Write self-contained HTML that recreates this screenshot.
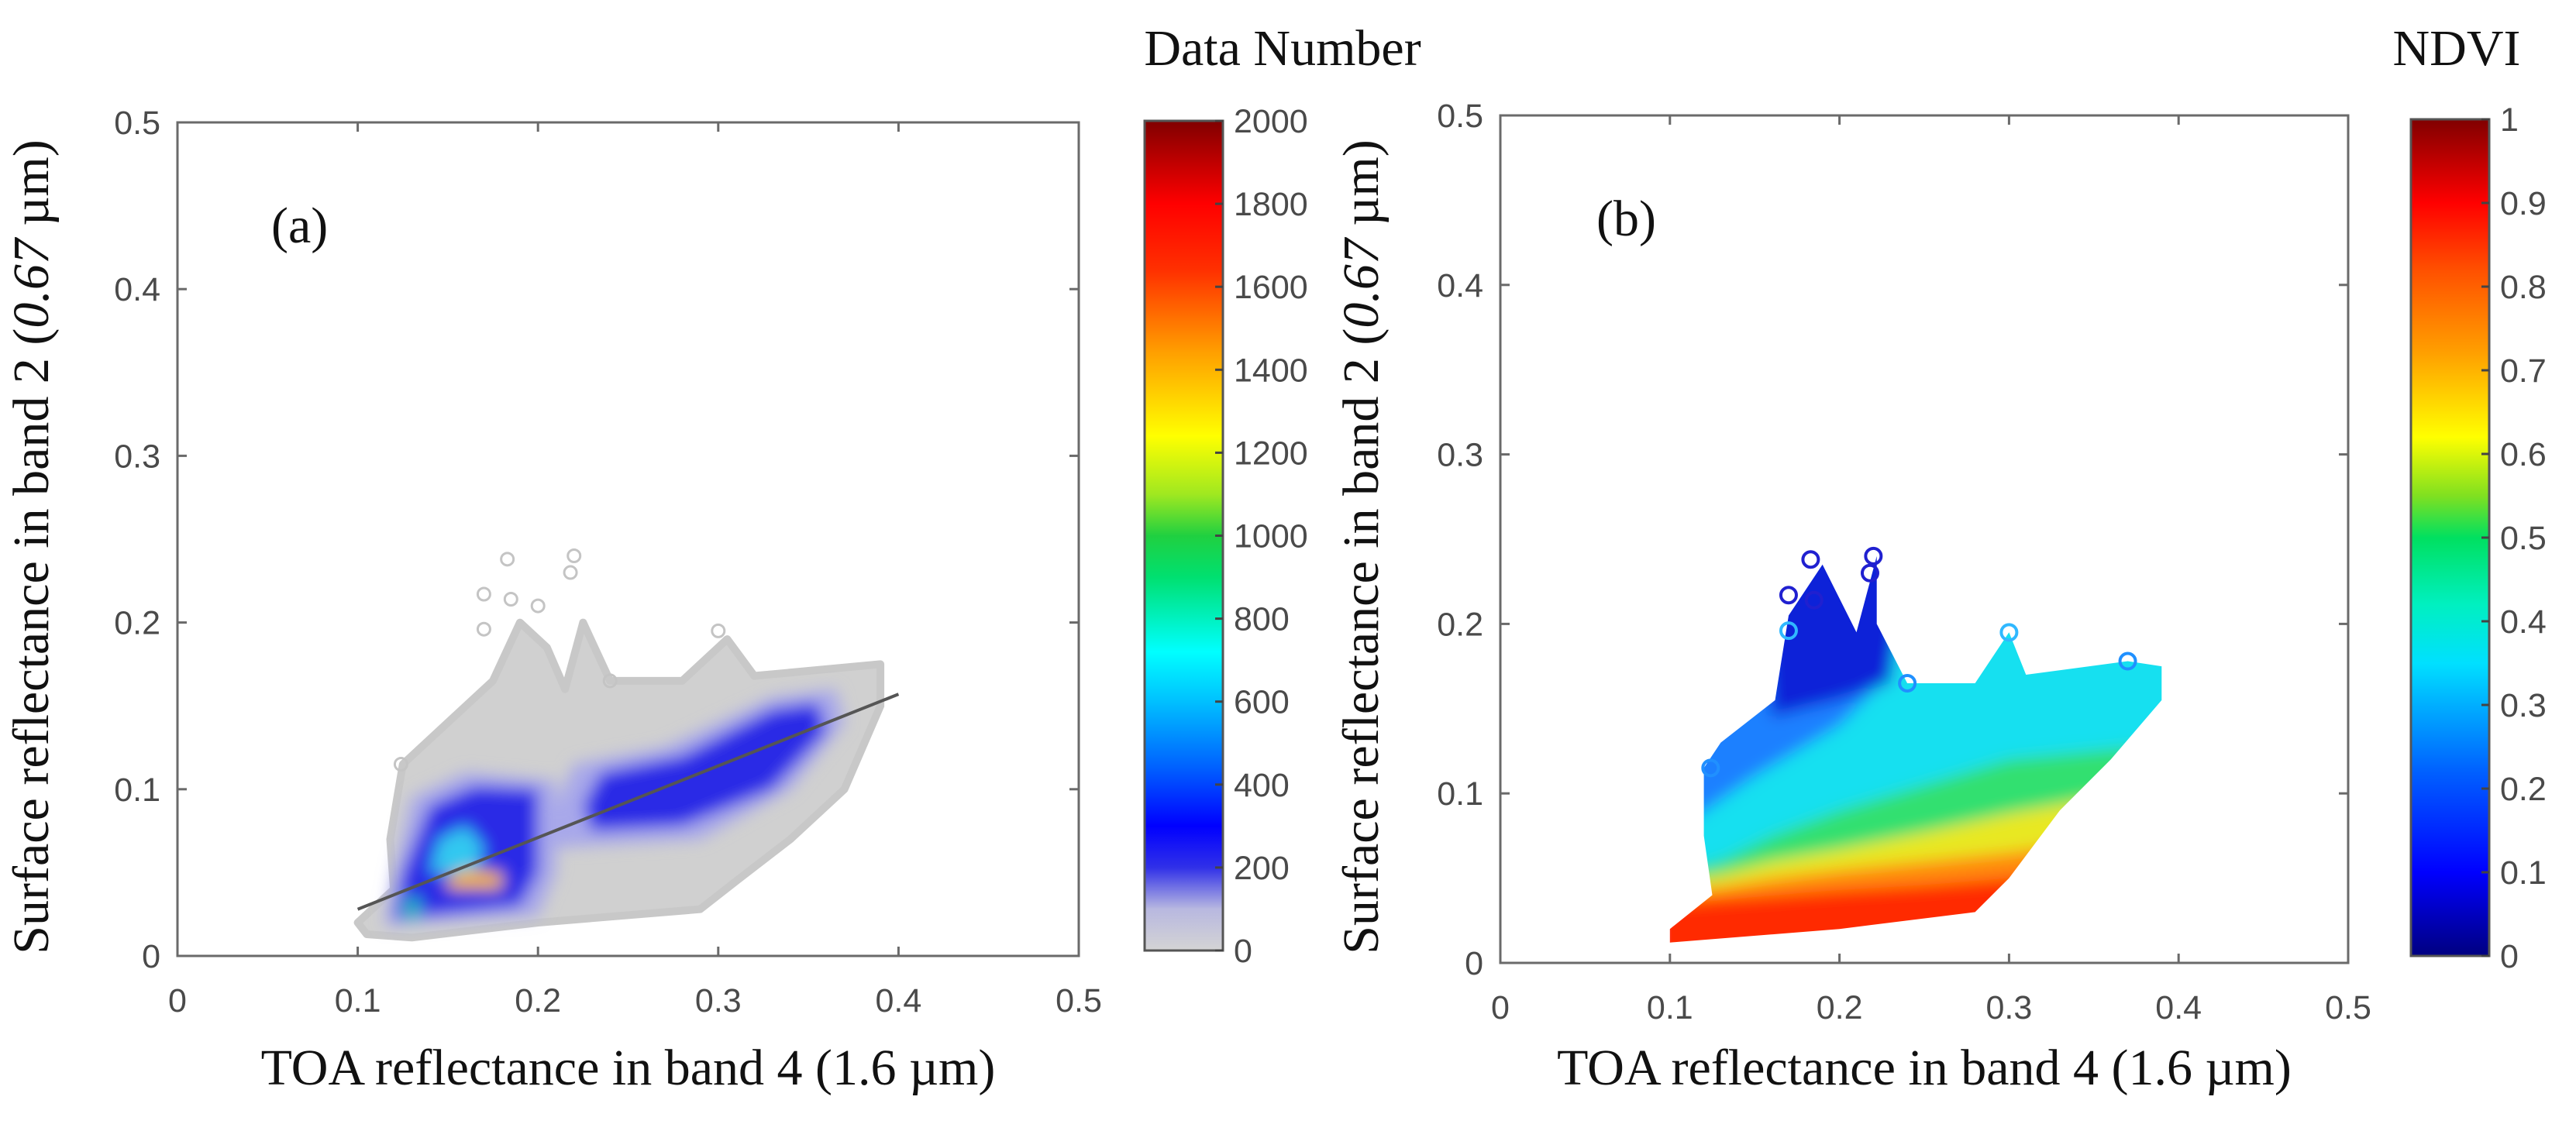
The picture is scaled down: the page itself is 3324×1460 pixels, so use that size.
<!DOCTYPE html>
<html><head><meta charset="utf-8">
<style>
html,body{margin:0;padding:0;background:#fff;}
svg{display:block;}
.tk{font-family:"Liberation Sans",sans-serif;font-size:43px;fill:#4a4a4a;}
.tt{font-family:"Liberation Serif",serif;font-size:66px;fill:#111;}
</style></head>
<body>
<svg id="fig" width="3324" height="1460" viewBox="0 0 3324 1460" xmlns="http://www.w3.org/2000/svg">
<defs>
<linearGradient id="cbA" x1="0" y1="1" x2="0" y2="0">
<stop offset="0" stop-color="#d4d4d4"/><stop offset="0.05" stop-color="#b8b8e0"/><stop offset="0.1" stop-color="#3030e8"/>
<stop offset="0.15" stop-color="#0000ff"/><stop offset="0.22" stop-color="#0060ff"/><stop offset="0.3" stop-color="#00c0ff"/>
<stop offset="0.36" stop-color="#00ffff"/><stop offset="0.45" stop-color="#00e070"/><stop offset="0.5" stop-color="#20d040"/>
<stop offset="0.55" stop-color="#a0e820"/><stop offset="0.62" stop-color="#ffff00"/><stop offset="0.72" stop-color="#ffa000"/>
<stop offset="0.82" stop-color="#ff3000"/><stop offset="0.9" stop-color="#ff0000"/><stop offset="1" stop-color="#800000"/>
</linearGradient>
<linearGradient id="cbB" x1="0" y1="1" x2="0" y2="0">
<stop offset="0" stop-color="#000080"/><stop offset="0.1" stop-color="#0000ff"/><stop offset="0.22" stop-color="#0060ff"/>
<stop offset="0.35" stop-color="#00e0ff"/><stop offset="0.42" stop-color="#00f0c0"/><stop offset="0.5" stop-color="#00e060"/>
<stop offset="0.55" stop-color="#80e020"/><stop offset="0.62" stop-color="#ffff00"/><stop offset="0.72" stop-color="#ffa000"/>
<stop offset="0.82" stop-color="#ff5000"/><stop offset="0.9" stop-color="#ff0000"/><stop offset="1" stop-color="#800000"/>
</linearGradient>
<filter id="blur"><feGaussianBlur stdDeviation="10"/></filter>
</defs>
<text class="tt" x="1655" y="84" text-anchor="middle" font-size="66">Data Number</text>
<text class="tt" x="3170" y="84" text-anchor="middle" font-size="66">NDVI</text>
</svg>
<script>
// ---- data (data coordinates) ----
const xTicks=[0,0.1,0.2,0.3,0.4,0.5];
const yTicks=[0,0.1,0.2,0.3,0.4,0.5];
const cbATicks=[0,200,400,600,800,1000,1200,1400,1600,1800,2000];
const cbBTicks=[0,0.1,0.2,0.3,0.4,0.5,0.6,0.7,0.8,0.9,1];
const cbBLabels=["0","0.1","0.2","0.3","0.4","0.5","0.6","0.7","0.8","0.9","1"];
const envA=[[0.105,0.013],[0.13,0.011],[0.2,0.02],[0.29,0.028],[0.31,0.045],[0.34,0.07],[0.37,0.1],[0.39,0.15],[0.39,0.175],[0.36,0.172],[0.32,0.168],[0.305,0.19],[0.28,0.165],[0.24,0.165],[0.225,0.2],[0.215,0.16],[0.205,0.185],[0.19,0.2],[0.175,0.165],[0.15,0.14],[0.125,0.115],[0.118,0.07],[0.12,0.04],[0.1,0.02]];
const lightBlueA1=[[0.115,0.018],[0.2,0.024],[0.21,0.05],[0.21,0.105],[0.16,0.11],[0.13,0.095],[0.12,0.05]];
const lightBlueA2=[[0.21,0.065],[0.29,0.07],[0.34,0.1],[0.37,0.14],[0.365,0.16],[0.33,0.155],[0.27,0.125],[0.22,0.115],[0.21,0.09]];
const blueA1=[[0.12,0.022],[0.19,0.03],[0.2,0.05],[0.2,0.1],[0.165,0.102],[0.14,0.09],[0.125,0.05]];
const blueA2=[[0.23,0.075],[0.28,0.078],[0.33,0.1],[0.36,0.135],[0.355,0.152],[0.33,0.148],[0.28,0.12],[0.235,0.11],[0.225,0.09]];
const cyanA=[[0.14,0.05],[0.165,0.05],[0.17,0.065],[0.16,0.078],[0.145,0.07]];
const hotA=[[0.15,0.04],[0.18,0.04],[0.18,0.05],[0.16,0.052],[0.15,0.047]];
const hotA2=[[0.125,0.022],[0.135,0.022],[0.135,0.035],[0.125,0.035]];
const fitLine=[[0.1,0.028],[0.4,0.157]];
const outA=[[0.183,0.238],[0.22,0.24],[0.218,0.23],[0.17,0.217],[0.185,0.214],[0.2,0.21],[0.17,0.196],[0.3,0.195],[0.24,0.165],[0.124,0.115]];
const envB=[[0.1,0.012],[0.2,0.02],[0.28,0.03],[0.3,0.05],[0.33,0.09],[0.36,0.12],[0.39,0.155],[0.39,0.175],[0.37,0.178],[0.31,0.17],[0.3,0.195],[0.28,0.165],[0.24,0.165],[0.222,0.2],[0.222,0.24],[0.21,0.195],[0.19,0.235],[0.17,0.205],[0.162,0.155],[0.13,0.13],[0.12,0.115],[0.12,0.075],[0.125,0.04],[0.1,0.02]];
const bandX=[0.09,0.13,0.16,0.2,0.25,0.3,0.35,0.4];
const greenTop=[0.05,0.06,0.075,0.09,0.105,0.12,0.125,0.13];
const yellowTop=[0.045,0.052,0.06,0.067,0.077,0.088,0.097,0.1];
const orangeTop=[0.04,0.045,0.05,0.055,0.06,0.065,0.072,0.075];
const redTop=[0.035,0.038,0.04,0.043,0.046,0.05,0.055,0.06];
const blueB=[[0.1,0.075],[0.15,0.11],[0.2,0.14],[0.225,0.165],[0.25,0.3],[0.1,0.3]];
const darkBlueB=[[0.16,0.145],[0.2,0.155],[0.23,0.165],[0.25,0.3],[0.15,0.3]];
const outB=[[0.183,0.238],[0.22,0.24],[0.218,0.23],[0.17,0.217],[0.185,0.214],[0.17,0.196],[0.3,0.195],[0.37,0.178],[0.124,0.115],[0.24,0.165]];

const NS="http://www.w3.org/2000/svg";
const svg=document.getElementById('fig');
function mk(tag,attrs,parent){const e=document.createElementNS(NS,tag);for(const k in attrs)e.setAttribute(k,attrs[k]);(parent||svg).appendChild(e);return e;}
function makeAxes(L,R,T,B){return {sx:v=>L+(v-0)/(0.5)*(R-L),sy:v=>B-(v/0.5)*(B-T),L,R,T,B};}
function poly(ax,pts,fill,parent,opts){
  const e=mk('polygon',Object.assign({points:pts.map(p=>ax.sx(p[0]).toFixed(1)+','+ax.sy(p[1]).toFixed(1)).join(' '),fill:fill},opts||{}),parent);return e;}
function bandPoly(ax,top){const pts=bandX.map((x,i)=>[x,top[i]]);pts.push([0.4,-0.01],[0.09,-0.01]);return pts;}

function drawFrame(ax,name,labX,labY,letter,letterX){
  const g=mk('g',{});
  
  
  const r=mk('rect',{x:ax.L,y:ax.T,width:ax.R-ax.L,height:ax.B-ax.T,fill:'none',stroke:'#6a6a6a','stroke-width':3},g);
  
  
  xTicks.forEach(v=>{const x=ax.sx(v);
    mk('line',{x1:x,y1:ax.B,x2:x,y2:ax.B-12,stroke:'#6a6a6a','stroke-width':3},g);
    mk('line',{x1:x,y1:ax.T,x2:x,y2:ax.T+12,stroke:'#6a6a6a','stroke-width':3},g);
    const t=mk('text',{x:x,y:ax.B+72,'text-anchor':'middle',class:'tk'},g);t.textContent=String(v);
    
    });
  yTicks.forEach(v=>{const y=ax.sy(v);
    mk('line',{x1:ax.L,y1:y,x2:ax.L+12,y2:y,stroke:'#6a6a6a','stroke-width':3},g);
    mk('line',{x1:ax.R,y1:y,x2:ax.R-12,y2:y,stroke:'#6a6a6a','stroke-width':3},g);
    const t=mk('text',{x:ax.L-22,y:y+15,'text-anchor':'end',class:'tk'},g);t.textContent=String(v);
    
    });
  const xt=mk('text',{x:(ax.L+ax.R)/2,y:labY,'text-anchor':'middle',class:'tt','font-size':72},g);
  xt.textContent='TOA  reflectance in band 4 (1.6 \u00b5m)';
  
  
  const yt=mk('text',{x:0,y:0,'text-anchor':'middle',class:'tt',transform:`translate(${labX},${(ax.T+ax.B)/2+10}) rotate(-90)`},g);
  yt.innerHTML='Surface reflectance in band 2 (<tspan font-style="italic">0.67</tspan> \u00b5m)';
  
  
  const lt=mk('text',{x:letterX,y:ax.T+155,class:'tt','font-size':84},g);lt.textContent=letter;
  
  
}
function drawColorbar(L,R,T,B,grad,ticks,labels,name){
  const g=mk('g',{});
  
  
  mk('rect',{x:L,y:T,width:R-L,height:B-T,fill:`url(#${grad})`,stroke:'#555','stroke-width':3},g);
  const mn=ticks[0],mx=ticks[ticks.length-1];
  ticks.forEach((v,i)=>{const y=B-(v-mn)/(mx-mn)*(B-T);
    mk('line',{x1:R,y1:y,x2:R-10,y2:y,stroke:'#444','stroke-width':3},g);
    const t=mk('text',{x:R+14,y:y+15,class:'tk'},g);t.textContent=labels[i];
    
    });
}

// ---- panel a ----
const axA=makeAxes(229,1392,158,1234);
const gA=mk('g',{});


poly(axA,envA,'#d0d0d0',gA,{stroke:'#c8c8c8','stroke-width':10,'stroke-linejoin':'round'});
outA.forEach(p=>{const c=mk('circle',{cx:axA.sx(p[0]),cy:axA.sy(p[1]),r:8,fill:'none',stroke:'#c4c4c4','stroke-width':3},gA);
  
  });
const gAb=mk('g',{filter:'url(#blur)'},gA);
poly(axA,lightBlueA1,'#a8a8ea',gAb);
poly(axA,lightBlueA2,'#a8a8ea',gAb);
poly(axA,blueA1,'#2a2ae6',gAb);
poly(axA,blueA2,'#2a2ae6',gAb);
poly(axA,cyanA,'#30c8f0',gAb);
poly(axA,hotA,'#f0b030',gAb);
poly(axA,hotA2,'#20b0c0',gAb);
const fl=mk('line',{x1:axA.sx(fitLine[0][0]),y1:axA.sy(fitLine[0][1]),x2:axA.sx(fitLine[1][0]),y2:axA.sy(fitLine[1][1]),stroke:'#555','stroke-width':4});


drawFrame(axA,'panel-a',62,1400,'(a)',350);
drawColorbar(1477,1578,156,1227,'cbA',cbATicks,cbATicks.map(String),'colorbar-a');

// ---- panel b ----
const axB=makeAxes(1936,3030,149,1243);
mk('clipPath',{id:'clipB'},svg);
const cp=document.getElementById('clipB');
poly(axB,envB,'#000',cp);
const gB=mk('g',{'clip-path':'url(#clipB)'});


const gBb=mk('g',{filter:'url(#blur)'},gB);
mk('rect',{x:axB.L,y:axB.T,width:axB.R-axB.L,height:axB.B-axB.T,fill:'#18e0f0'},gBb);
poly(axB,blueB,'#1a80ff',gBb);
poly(axB,darkBlueB,'#0a20d8',gBb);
poly(axB,bandPoly(axB,greenTop),'#30e070',gBb);
poly(axB,bandPoly(axB,yellowTop),'#e8e820',gBb);
poly(axB,bandPoly(axB,orangeTop),'#ff8a10',gBb);
poly(axB,bandPoly(axB,redTop),'#ff2a00',gBb);
outB.forEach((p,i)=>{const c=mk('circle',{cx:axB.sx(p[0]),cy:axB.sy(p[1]),r:10,fill:'none',stroke:i<7?(p[1]>0.2?'#2020d0':'#30b8ff'):'#2090ff','stroke-width':4});
  
  });
drawFrame(axB,'panel-b',1778,1400,'(b)',2060);
drawColorbar(3111,3212,154,1234,'cbB',cbBTicks,cbBLabels,'colorbar-b');
</script>
</body></html>
